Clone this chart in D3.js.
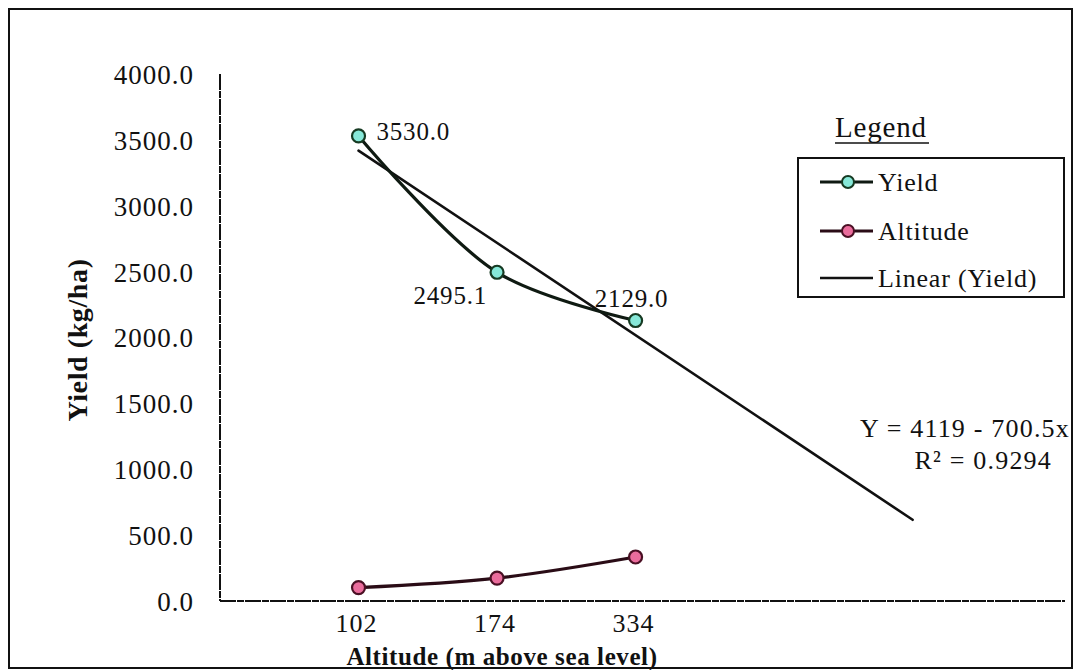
<!DOCTYPE html>
<html>
<head>
<meta charset="utf-8">
<script src="https://cdn.jsdelivr.net/npm/d3@7"></script>
<style>
  html, body { margin: 0; padding: 0; background: #fff; }
  svg { display: block; }
  text { font-family: 'Liberation Serif', 'Times New Roman', serif; fill: #111; }
</style>
</head>
<body>
<svg id="chart" width="1076" height="670"></svg>
<script>
// ---- data ----
const categories = ["102", "174", "334"];
const yieldValues = [3530.0, 2495.1, 2129.0];
const altitudeValues = [102, 174, 334];
const yieldLabels = ["3530.0", "2495.1", "2129.0"];
const yTicks = [0, 500, 1000, 1500, 2000, 2500, 3000, 3500, 4000];
const trendForward = 2; // periods forecast forward
const equationLines = ["Y = 4119 - 700.5x", "R\u00B2 = 0.9294"];
const legendItems = ["Yield", "Altitude", "Linear (Yield)"];

// ---- scales ----
const svg = d3.select("#chart");
const x = d3.scaleLinear().domain([0, 6.1]).range([220, 1065]);
const y = d3.scaleLinear().domain([0, 4000]).range([601, 74]);

// outer frame
svg.append("rect").attr("x", 9).attr("y", 9).attr("width", 1063).attr("height", 659)
  .attr("fill", "none").attr("stroke", "#111").attr("stroke-width", 2);

// axes
const axisDash = "16,1,7,1";
svg.append("line").attr("x1", x(0)).attr("x2", x(0)).attr("y1", y(4000)).attr("y2", y(0))
  .attr("stroke", "#111").attr("stroke-width", 2).attr("stroke-dasharray", axisDash);
svg.append("line").attr("x1", x(0)).attr("x2", x.range()[1]).attr("y1", y(0)).attr("y2", y(0))
  .attr("stroke", "#111").attr("stroke-width", 2).attr("stroke-dasharray", axisDash);

// y tick labels
const yAxis = d3.axisLeft(y).tickValues(yTicks).tickFormat(d3.format(".1f")).tickSize(0).tickPadding(26);
const gy = svg.append("g").attr("transform", `translate(${x(0)},0)`).call(yAxis);
gy.select(".domain").remove();
gy.selectAll("text").style("font-family", "'Liberation Serif', serif").style("font-size", "27px")
  .attr("fill", "#111").attr("letter-spacing", "1px").attr("dy", "0.35em");

// x tick labels
const idx = categories.map((c, i) => i + 1);
svg.selectAll(".xt").data(categories).enter().append("text")
  .attr("x", (d, i) => x(i + 1) - 2).attr("y", 632)
  .attr("text-anchor", "middle").style("font-size", "26px").attr("letter-spacing", "1px")
  .text(d => d);

// axis titles
svg.append("text").attr("transform", `translate(87,340) rotate(-90)`)
  .attr("text-anchor", "middle").style("font-size", "28px").style("font-weight", "bold")
  .attr("letter-spacing", "0.6px")
  .text("Yield (kg/ha)");
svg.append("text").attr("x", 502).attr("y", 665)
  .attr("text-anchor", "middle").style("font-size", "25px").style("font-weight", "bold")
  .attr("letter-spacing", "0.6px")
  .text("Altitude (m above sea level)");

// trend line (least squares on yield vs index)
const n = yieldValues.length;
const mx = d3.mean(idx), my = d3.mean(yieldValues);
const slope = d3.sum(idx.map((v, i) => (v - mx) * (yieldValues[i] - my))) / d3.sum(idx.map(v => (v - mx) ** 2));
const intercept = my - slope * mx;
const tx = [1, n + trendForward];
svg.append("line")
  .attr("x1", x(tx[0])).attr("y1", y(intercept + slope * tx[0]))
  .attr("x2", x(tx[1])).attr("y2", y(intercept + slope * tx[1]))
  .attr("stroke", "#111").attr("stroke-width", 2.6).attr("stroke-linecap", "round");

// series lines
const line = d3.line().x(d => x(d[0])).y(d => y(d[1])).curve(d3.curveCatmullRom.alpha(0.5));
const yieldPts = yieldValues.map((v, i) => [i + 1, v]);
const altPts = altitudeValues.map((v, i) => [i + 1, v]);

svg.append("path").attr("d", line(yieldPts)).attr("fill", "none")
  .attr("stroke", "#0f1a12").attr("stroke-width", 3.2);
svg.append("path").attr("d", line(altPts)).attr("fill", "none")
  .attr("stroke", "#2a0c16").attr("stroke-width", 3.2);

svg.selectAll(".ym").data(yieldPts).enter().append("circle")
  .attr("cx", d => x(d[0])).attr("cy", d => y(d[1])).attr("r", 6.5)
  .attr("fill", "#86e8d8").attr("stroke", "#163a22").attr("stroke-width", 2.2);
svg.selectAll(".am").data(altPts).enter().append("circle")
  .attr("cx", d => x(d[0])).attr("cy", d => y(d[1])).attr("r", 6.5)
  .attr("fill", "#ea6c9c").attr("stroke", "#4a1024").attr("stroke-width", 2.2);

// data labels
const labelOffsets = [[18, 4, "start"], [-10, 32, "end"], [-4, -14, "middle"]];
svg.selectAll(".dl").data(yieldPts).enter().append("text")
  .attr("x", (d, i) => x(d[0]) + labelOffsets[i][0])
  .attr("y", (d, i) => y(d[1]) + labelOffsets[i][1])
  .attr("text-anchor", (d, i) => labelOffsets[i][2])
  .style("font-size", "25px").attr("letter-spacing", "0.8px")
  .text((d, i) => yieldLabels[i]);

// equation
svg.append("text").attr("x", 1070).attr("y", 437).attr("text-anchor", "end")
  .style("font-size", "26px").attr("letter-spacing", "1.2px").text(equationLines[0]);
svg.append("text").attr("x", 1052).attr("y", 469).attr("text-anchor", "end")
  .style("font-size", "26px").attr("letter-spacing", "1.2px").text(equationLines[1]);

// legend
svg.append("text").attr("x", 835).attr("y", 137).style("font-size", "29px")
  .attr("letter-spacing", "0.8px").text("Legend");
svg.append("line").attr("x1", 835).attr("x2", 929).attr("y1", 143).attr("y2", 143)
  .attr("stroke", "#111").attr("stroke-width", 1.6);
svg.append("rect").attr("x", 798).attr("y", 158).attr("width", 266).attr("height", 139)
  .attr("fill", "#fff").attr("stroke", "#111").attr("stroke-width", 2);

const legendY = [182, 231, 278];
const legendStyles = [
  { stroke: "#0f1a12", fill: "#86e8d8", mstroke: "#163a22", marker: true },
  { stroke: "#2a0c16", fill: "#ea6c9c", mstroke: "#4a1024", marker: true },
  { stroke: "#111", marker: false }
];
legendItems.forEach((name, i) => {
  const st = legendStyles[i];
  svg.append("line").attr("x1", 820).attr("x2", 873).attr("y1", legendY[i]).attr("y2", legendY[i])
    .attr("stroke", st.stroke).attr("stroke-width", st.marker ? 3 : 2.4);
  if (st.marker) {
    svg.append("circle").attr("cx", 848).attr("cy", legendY[i]).attr("r", 6)
      .attr("fill", st.fill).attr("stroke", st.mstroke).attr("stroke-width", 2);
  }
  svg.append("text").attr("x", 878).attr("y", legendY[i]).attr("dy", "0.35em")
    .style("font-size", "26px").attr("letter-spacing", "0.8px").text(name);
});
</script>
</body>
</html>
